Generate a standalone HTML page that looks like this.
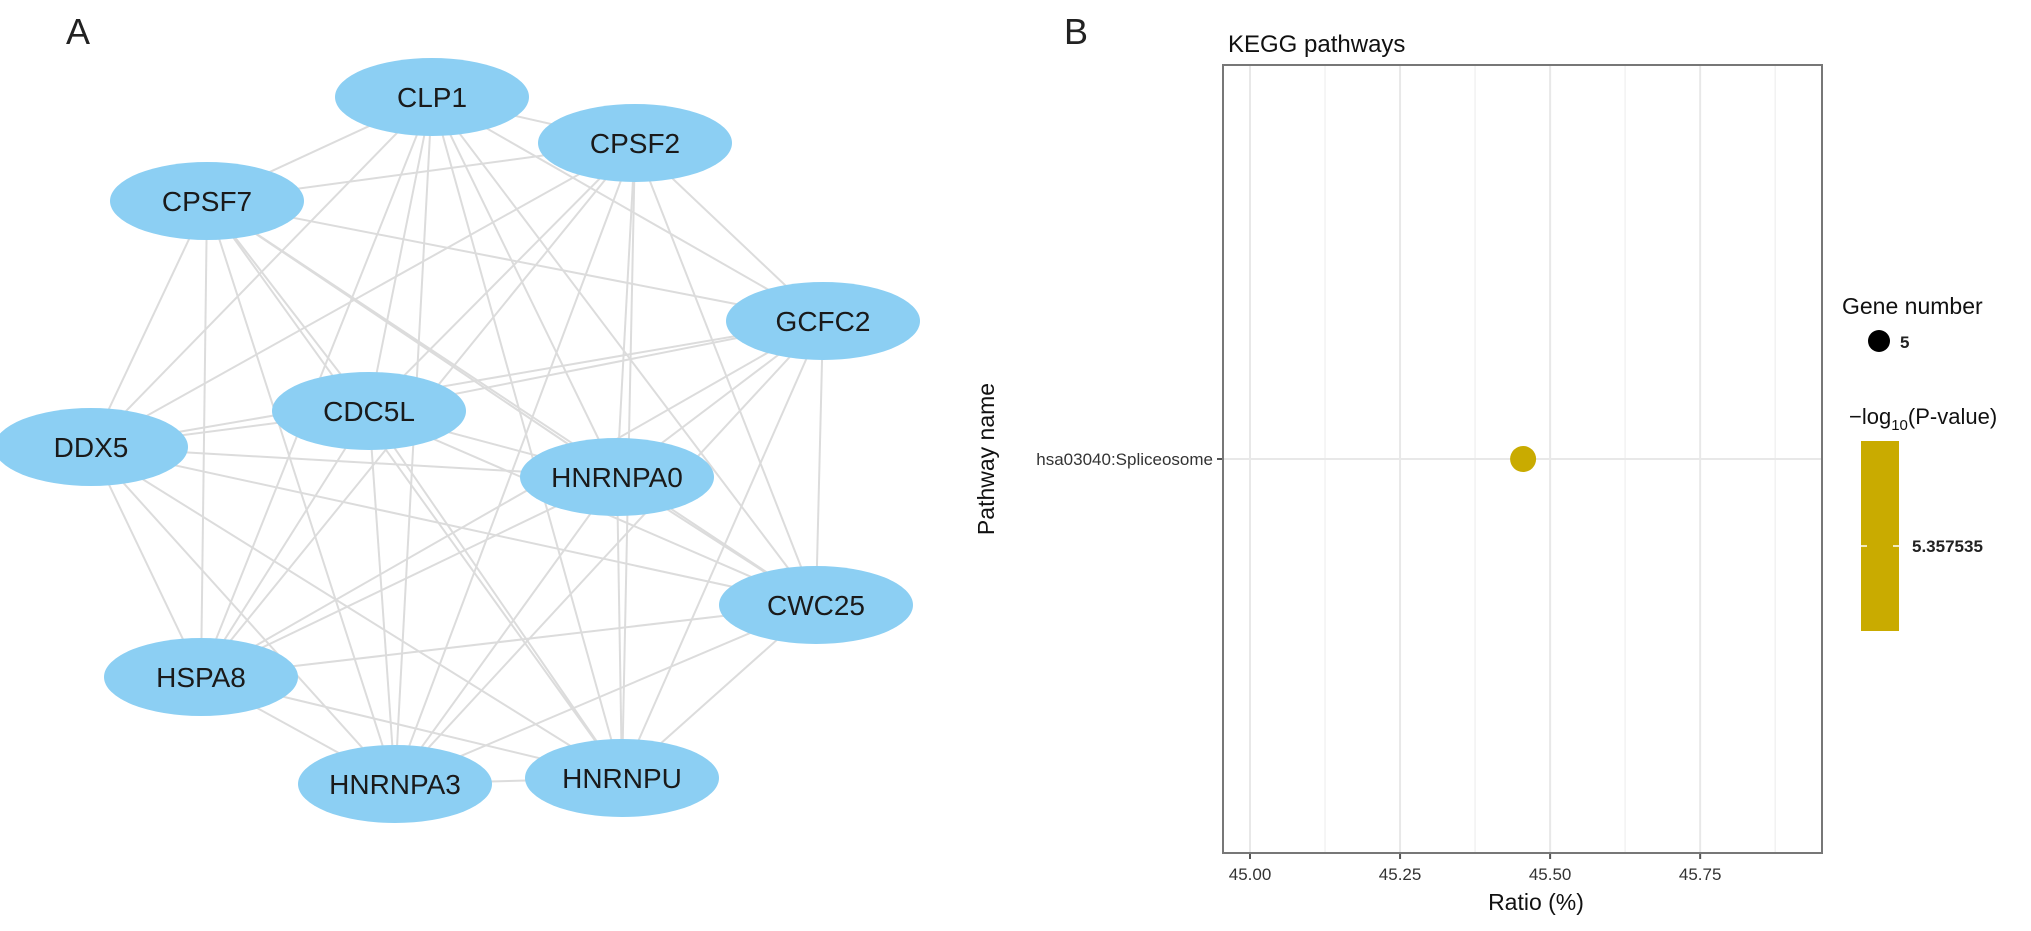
<!DOCTYPE html>
<html><head><meta charset="utf-8"><style>
html,body{margin:0;padding:0;background:#fff}
svg{display:block;font-family:"Liberation Sans",Arial,sans-serif}
</style></head><body>
<svg id="fig" width="2031" height="931" viewBox="0 0 2031 931" xmlns="http://www.w3.org/2000/svg">
<text x="66" y="44" font-size="36" fill="#222">A</text>
<g id="edges"></g>
<g id="nodes"></g>
<text x="1064" y="44" font-size="36" fill="#222">B</text>
<text x="1228" y="52" font-size="24" fill="#111">KEGG pathways</text>
<g id="plot"></g>
<text transform="translate(994,459) rotate(-90)" text-anchor="middle" font-size="23" fill="#111">Pathway name</text>
<text x="1536" y="910" text-anchor="middle" font-size="23" fill="#111">Ratio (%)</text>
<text x="1842" y="314" font-size="23" fill="#111">Gene number</text>
<circle cx="1879" cy="341" r="11" fill="#000"/>
<text x="1900" y="348" font-size="17" font-weight="bold" fill="#222">5</text>
<text x="1849" y="424" font-size="22" fill="#111">−log<tspan font-size="15" dy="6">10</tspan><tspan dy="-6">(P-value)</tspan></text>
<rect x="1861" y="441" width="38" height="190" fill="#c9ab00"/>
<line x1="1861" y1="546" x2="1867" y2="546" stroke="#fff" stroke-width="1.5"/>
<line x1="1893" y1="546" x2="1899" y2="546" stroke="#fff" stroke-width="1.5"/>
<text x="1912" y="552" font-size="17" font-weight="bold" fill="#222">5.357535</text>
</svg>
<script>
const nodeNames=["CLP1","CPSF2","CPSF7","GCFC2","CDC5L","DDX5","HNRNPA0","CWC25","HSPA8","HNRNPA3","HNRNPU"];
const nodeX=[432,635,207,823,369,91,617,816,201,395,622];
const nodeY=[97,143,201,321,411,447,477,605,677,784,778];
const categories=["hsa03040:Spliceosome"];
const ratios=[45.455];
const geneCounts=[5];
const xTicks=[45.00,45.25,45.50,45.75];
const xTickLabels=["45.00","45.25","45.50","45.75"];
const NS="http://www.w3.org/2000/svg";
function mk(tag,attrs,parent){const e=document.createElementNS(NS,tag);for(const k in attrs)e.setAttribute(k,attrs[k]);parent.appendChild(e);return e;}
const eg=document.getElementById('edges'),ng=document.getElementById('nodes');
for(let i=0;i<nodeNames.length;i++)for(let j=i+1;j<nodeNames.length;j++){
 const l=mk('line',{x1:nodeX[i],y1:nodeY[i],x2:nodeX[j],y2:nodeY[j],stroke:'#dcdcdc','stroke-width':2},eg);
 
 
}
nodeNames.forEach((n,i)=>{
 const g=mk('g',{},ng);
 
 
 mk('ellipse',{cx:nodeX[i],cy:nodeY[i],rx:97,ry:39,fill:'#8ccff3'},g);
 const t=mk('text',{x:nodeX[i],y:nodeY[i]+10,'text-anchor':'middle','font-size':28,fill:'#1a1a1a'},g);
 t.textContent=n;
});
// plot
const L=1223,R=1822,T=65,B=853;
const xmin=44.955,xmax=45.953;
const xs=v=>L+(v-xmin)/(xmax-xmin)*(R-L);
const ys=i=>T+(i+0.5)*(B-T)/categories.length;
const p=document.getElementById('plot');
for(let v=45.125;v<xmax;v+=0.25){const l=mk('line',{x1:xs(v),x2:xs(v),y1:T,y2:B,stroke:'#f2f2f2','stroke-width':1.5},p);}
xTicks.forEach((v,i)=>{
 const l=mk('line',{x1:xs(v),x2:xs(v),y1:T,y2:B,stroke:'#e8e8e8','stroke-width':2},p);
 
 
 mk('line',{x1:xs(v),x2:xs(v),y1:B,y2:B+6,stroke:'#555','stroke-width':2},p);
 const t=mk('text',{x:xs(v),y:880,'text-anchor':'middle','font-size':17,fill:'#333'},p);
 t.textContent=xTickLabels[i];
 
 
});
categories.forEach((c,i)=>{
 const l=mk('line',{x1:L,x2:R,y1:ys(i),y2:ys(i),stroke:'#e8e8e8','stroke-width':2},p);
 
 
 mk('line',{x1:L-6,x2:L,y1:ys(i),y2:ys(i),stroke:'#555','stroke-width':2},p);
 const t=mk('text',{x:L-10,y:ys(i)+6,'text-anchor':'end','font-size':17,fill:'#333'},p);
 t.textContent=c;
 
 
 const d=mk('circle',{cx:xs(ratios[i]),cy:ys(i),r:geneCounts[i]*2.6,fill:'#c9ab00'},p);
 
 
});
const fr=mk('rect',{x:L,y:T,width:R-L,height:B-T,fill:'none',stroke:'#777','stroke-width':2},p);


</script>
</body></html>
